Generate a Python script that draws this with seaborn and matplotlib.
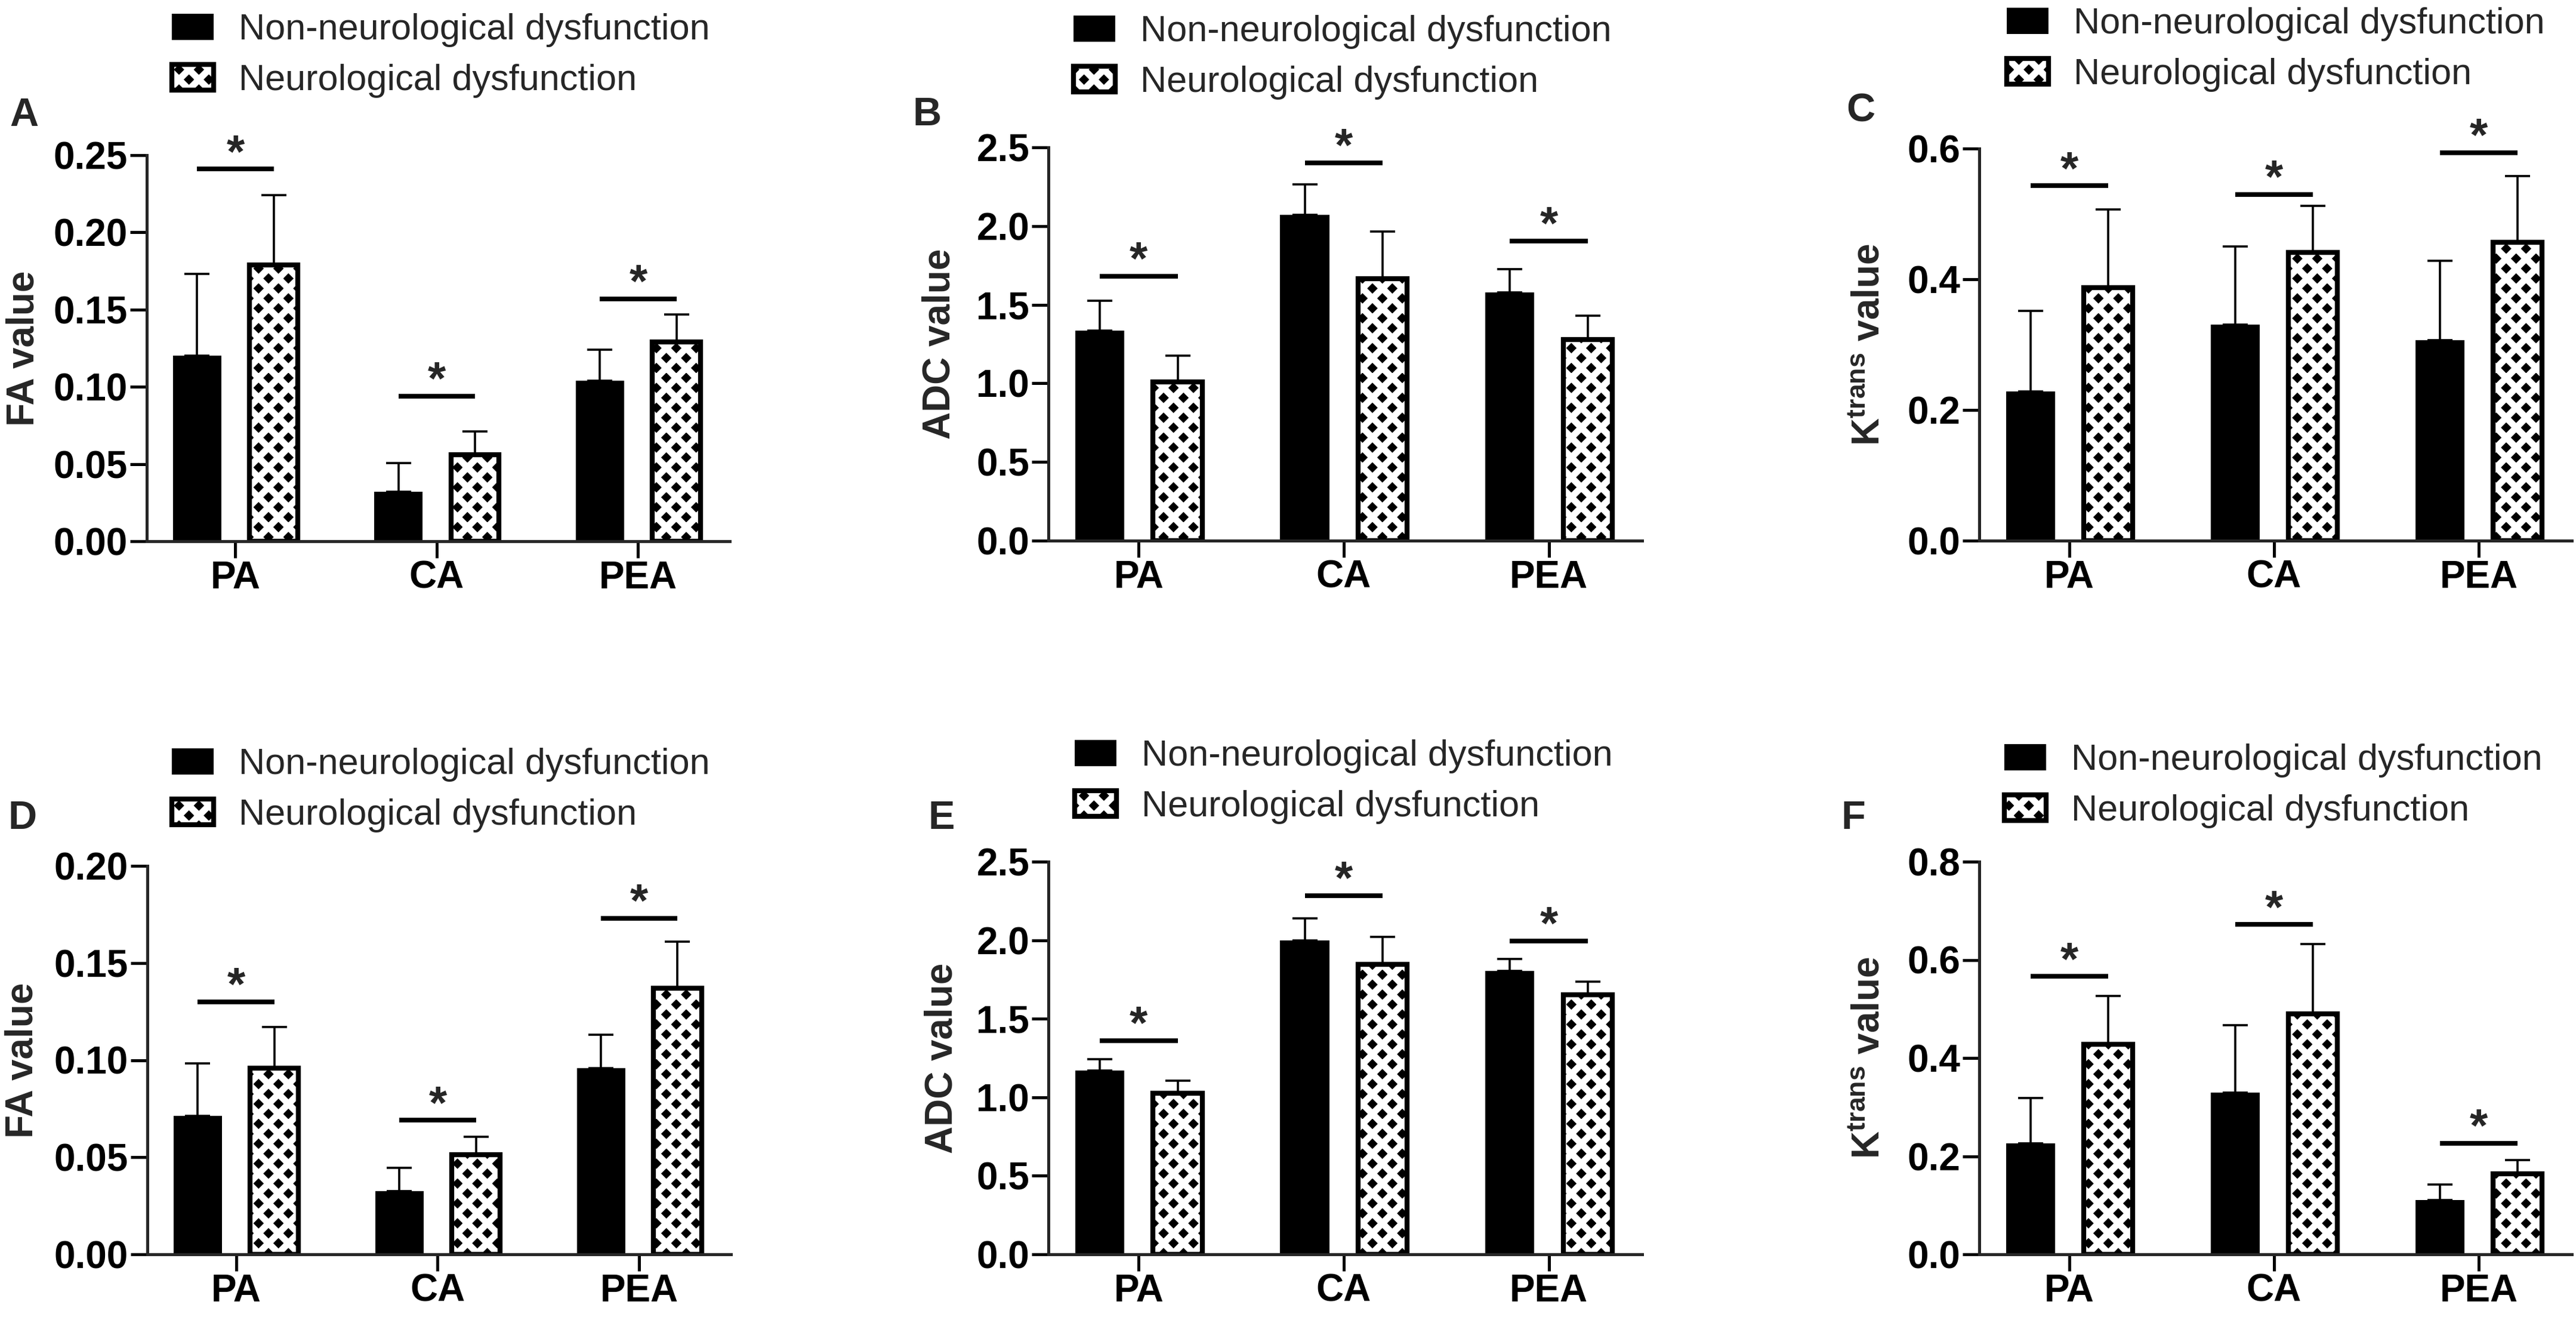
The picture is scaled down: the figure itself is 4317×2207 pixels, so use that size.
import numpy as np
import pandas as pd
import matplotlib
matplotlib.use("Agg")
import matplotlib.pyplot as plt
from matplotlib.patches import Patch, Rectangle
from matplotlib.ticker import FormatStrFormatter
import seaborn as sns

sns.set_style("ticks")
plt.rcParams["font.family"] = ["Liberation Sans", "DejaVu Sans"]
plt.rcParams["font.weight"] = "bold"
plt.rcParams["mathtext.fontset"] = "custom"
plt.rcParams["mathtext.bf"] = "Liberation Sans:bold"
plt.rcParams["mathtext.rm"] = "Liberation Sans:bold"
plt.rcParams["hatch.linewidth"] = 4.0

# ---------------- data ----------------
regions = ["PA", "CA", "PEA"]
groups = ["Non-neurological dysfunction", "Neurological dysfunction"]

# A - FA (top row)
a_non_mean = [0.120, 0.032, 0.104]
a_non_sd = [0.053, 0.0185, 0.020]
a_neu_mean = [0.179, 0.056, 0.129]
a_neu_sd = [0.045, 0.015, 0.018]
a_sig = [0.241, 0.094, 0.157]

# B - ADC (top row)
b_non_mean = [1.337, 2.071, 1.579]
b_non_sd = [0.189, 0.194, 0.146]
b_neu_mean = [1.010, 1.664, 1.277]
b_neu_sd = [0.165, 0.301, 0.155]
b_sig = [1.681, 2.403, 1.906]

# C - Ktrans (top row)
c_non_mean = [0.228, 0.331, 0.307]
c_non_sd = [0.124, 0.119, 0.121]
c_neu_mean = [0.387, 0.441, 0.457]
c_neu_sd = [0.120, 0.071, 0.101]
c_sig = [0.543, 0.530, 0.594]

# D - FA (bottom row)
d_non_mean = [0.0713, 0.0325, 0.096]
d_non_sd = [0.027, 0.012, 0.017]
d_neu_mean = [0.096, 0.0514, 0.137]
d_neu_sd = [0.021, 0.009, 0.024]
d_sig = [0.130, 0.069, 0.173]

# E - ADC (bottom row)
e_non_mean = [1.171, 1.999, 1.806]
e_non_sd = [0.070, 0.139, 0.075]
e_neu_mean = [1.024, 1.846, 1.653]
e_neu_sd = [0.083, 0.174, 0.083]
e_sig = [1.361, 2.283, 1.996]

# F - Ktrans (bottom row)
f_non_mean = [0.226, 0.329, 0.111]
f_non_sd = [0.092, 0.138, 0.031]
f_neu_mean = [0.428, 0.490, 0.164]
f_neu_sd = [0.099, 0.142, 0.028]
f_sig = [0.566, 0.672, 0.226]

fa_ticks_top = [0.00, 0.05, 0.10, 0.15, 0.20, 0.25]
fa_ticks_bot = [0.00, 0.05, 0.10, 0.15, 0.20]
adc_ticks = [0.0, 0.5, 1.0, 1.5, 2.0, 2.5]
kt_ticks_top = [0.0, 0.2, 0.4, 0.6]
kt_ticks_bot = [0.0, 0.2, 0.4, 0.6, 0.8]

FA_LABEL = "FA value"
ADC_LABEL = "ADC value"
KT_LABEL = r"$\mathbf{K^{trans}}$ value"

HATCH = "xx"  # white lattice over black -> black diamonds

# ---------------- layout (pixels of the 4317x2207 canvas) ----------------
W, H, DPI = 4317, 2207, 200
fig = plt.figure(figsize=(W / DPI, H / DPI), dpi=DPI)


def px_axes(x0, x1, ytop, ybot):
    return fig.add_axes([x0 / W, 1 - ybot / H, (x1 - x0) / W, (ybot - ytop) / H])


def draw_panel(ax, non_mean, non_sd, neu_mean, neu_sd, sig, ticks, fmt,
               ylabel, ylab_x, letter, letter_xy, leg_xy):
    df = pd.DataFrame({
        "region": regions * 2,
        "group": [groups[0]] * 3 + [groups[1]] * 3,
        "value": list(non_mean) + list(neu_mean),
    })
    sns.barplot(data=df, x="region", y="value", hue="group", order=regions,
                hue_order=groups, palette=["black", "black"], saturation=1,
                width=0.76, gap=0.37, errorbar=None, linewidth=0,
                legend=False, ax=ax)

    # hatched look: black face + white diagonal lattice, thick black outline
    for bar in ax.containers[1]:
        bar.set_facecolor("black")
        bar.set_edgecolor("white")
        bar.set_hatch(HATCH)
        bar.set_linewidth(0)
        ax.add_patch(Rectangle(bar.get_xy(), bar.get_width(), bar.get_height(),
                               fill=False, edgecolor="black", linewidth=3.0,
                               zorder=bar.get_zorder() + 0.1))

    # one-sided error bars (mean + SD)
    for cont, sd in zip(ax.containers[:2], [non_sd, neu_sd]):
        xs = [b.get_x() + b.get_width() / 2 for b in cont]
        ys = [b.get_height() for b in cont]
        ax.errorbar(xs, ys, yerr=[np.zeros(len(sd)), sd], fmt="none",
                    ecolor="black", elinewidth=1.3, capsize=7.6,
                    capthick=1.3, zorder=0.5)

    # significance bars
    left = [b.get_x() + b.get_width() / 2 for b in ax.containers[0]]
    right = [b.get_x() + b.get_width() / 2 for b in ax.containers[1]]
    for x0, x1, y in zip(left, right, sig):
        ax.plot([x0, x1], [y, y], color="black", lw=2.8, clip_on=False,
                solid_capstyle="butt")
        ax.annotate("*", xy=((x0 + x1) / 2, y), xytext=(0, 1),
                    textcoords="offset points", ha="center", va="baseline",
                    fontsize=28, fontweight="bold", annotation_clip=False)

    ax.set_xlim(-0.44, 2.455)
    ax.set_ylim(ticks[0], ticks[-1])
    ax.set_yticks(ticks)
    ax.yaxis.set_major_formatter(FormatStrFormatter(fmt))
    sns.despine(ax=ax)
    for s in ["left", "bottom"]:
        ax.spines[s].set_linewidth(1.8)
    ax.tick_params(axis="both", length=10, width=1.8, labelsize=23, pad=1.5,
                   colors="black")
    ax.set_xlabel("")
    ax.set_ylabel(ylabel, fontsize=23, fontweight="bold", va="center")
    ax.yaxis.set_label_coords(ylab_x, 0.5)

    fig.text(letter_xy[0] / W, 1 - letter_xy[1] / H, letter, fontsize=24,
             fontweight="bold", ha="left", va="baseline")

    h_non = Patch(facecolor="black", edgecolor="none")
    h_neu = (Patch(facecolor="black", edgecolor="white", hatch=HATCH, linewidth=0),
             Patch(facecolor="none", edgecolor="black", linewidth=3.0))
    ax.legend([h_non, h_neu], groups, loc="center left",
              bbox_to_anchor=(leg_xy[0] / W, 1 - leg_xy[1] / H),
              bbox_transform=fig.transFigure, frameon=False,
              prop={"size": 22, "weight": "normal"},
              handlelength=1.15, handleheight=0.72, handletextpad=0.69,
              labelspacing=0.45, borderpad=0, borderaxespad=0)


ax_a = px_axes(246, 1223, 260, 907)
ax_b = px_axes(1757, 2752, 247, 906)
ax_c = px_axes(3317, 4310, 249, 906)
ax_d = px_axes(247, 1225, 1451, 2102)
ax_e = px_axes(1757, 2752, 1444, 2102)
ax_f = px_axes(3317, 4310, 1444, 2102)

draw_panel(ax_a, a_non_mean, a_non_sd, a_neu_mean, a_neu_sd, a_sig,
           fa_ticks_top, "%.2f", FA_LABEL, -0.211, "A", (16, 211), (288, 93))
draw_panel(ax_b, b_non_mean, b_non_sd, b_neu_mean, b_neu_sd, b_sig,
           adc_ticks, "%.1f", ADC_LABEL, -0.183, "B", (1529, 210), (1799, 96))
draw_panel(ax_c, c_non_mean, c_non_sd, c_neu_mean, c_neu_sd, c_sig,
           kt_ticks_top, "%.1f", KT_LABEL, -0.186, "C", (3094, 204), (3363, 83))
draw_panel(ax_d, d_non_mean, d_non_sd, d_neu_mean, d_neu_sd, d_sig,
           fa_ticks_bot, "%.2f", FA_LABEL, -0.214, "D", (14, 1389), (288, 1324))
draw_panel(ax_e, e_non_mean, e_non_sd, e_neu_mean, e_neu_sd, e_sig,
           adc_ticks, "%.1f", ADC_LABEL, -0.179, "E", (1556, 1389), (1801, 1310))
draw_panel(ax_f, f_non_mean, f_non_sd, f_neu_mean, f_neu_sd, f_sig,
           kt_ticks_bot, "%.1f", KT_LABEL, -0.186, "F", (3085, 1389), (3359, 1317))

fig.savefig("out.png", dpi=DPI, facecolor="white")
